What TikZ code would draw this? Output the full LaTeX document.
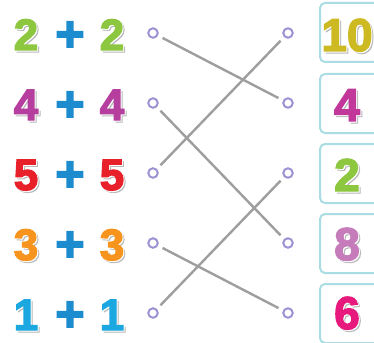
\documentclass[tikz,border=0pt]{standalone}
\usepackage{fontspec}
\setmainfont{Liberation Sans}
\newfontfamily\heavy[FakeBold=3]{Liberation Sans Bold}
\definecolor{cgreen}{HTML}{8DC63F}
\definecolor{cblue}{HTML}{1C8CCF}
\definecolor{cpurple}{HTML}{B53E9E}
\definecolor{cred}{HTML}{E8202A}
\definecolor{corange}{HTML}{F7941D}
\definecolor{ccyan}{HTML}{1BA8E0}
\definecolor{colive}{HTML}{CDB922}
\definecolor{cmagenta}{HTML}{C2379A}
\definecolor{clilac}{HTML}{C67BBA}
\definecolor{cpink}{HTML}{E8197C}
\definecolor{shadowgray}{HTML}{B8B8B8}
\definecolor{dotcol}{HTML}{9D92D2}
\definecolor{linecol}{HTML}{9E9E9E}
\definecolor{boxcol}{HTML}{A9DDE3}
\newcommand\shd[2]{\makebox[0pt][l]{\hspace{2pt}\raisebox{-2pt}{\color{shadowgray}#2}}\makebox[0pt][l]{\hspace{1pt}\raisebox{-1pt}{\color{white}#2}}{\color{#1}#2}}
\begin{document}
\begin{tikzpicture}[x=1pt,y=-1pt,
  dig/.style={inner sep=0pt, anchor=base, font=\fontsize{44}{44}\heavy},
  bigdig/.style={inner sep=0pt, anchor=base, font=\fontsize{46}{46}\heavy},
  plus/.style={inner sep=0pt, anchor=base, font=\fontsize{50}{50}\heavy, text=cblue},
  dot/.style={circle, draw=dotcol, fill=white, line width=2pt, inner sep=0pt, minimum size=9.5pt},
  link/.style={draw=linecol, line width=2.4pt, shorten <=5pt, shorten >=5pt},
  ansbox/.style={draw=boxcol, line width=2pt, rounded corners=5pt, fill=white, minimum width=90pt, minimum height=59pt, anchor=west, inner sep=0pt}]
\useasboundingbox (0,0) rectangle (374,342);
\clip (0,0) rectangle (374,342);
% answer boxes
\node[ansbox] (box1) at (319,32.5) {};
\node[ansbox] (box2) at (319,103.5) {};
\node[ansbox] (box3) at (319,173.5) {};
\node[ansbox] (box4) at (319,243.5) {};
\node[ansbox] (box5) at (319,313.5) {};
% left expressions
\node[dig] (a1) at (26,50) {\shd{cgreen}{2}};
\node[plus] (p1) at (70,51) {+};
\node[dig] (b1) at (112,50) {\shd{cgreen}{2}};
\node[dig] (a2) at (26,120) {\shd{cpurple}{4}};
\node[plus] (p2) at (70,121) {+};
\node[dig] (b2) at (112,120) {\shd{cpurple}{4}};
\node[dig] (a3) at (26,190) {\shd{cred}{5}};
\node[plus] (p3) at (70,191) {+};
\node[dig] (b3) at (112,190) {\shd{cred}{5}};
\node[dig] (a4) at (26,260) {\shd{corange}{3}};
\node[plus] (p4) at (70,261) {+};
\node[dig] (b4) at (112,260) {\shd{corange}{3}};
\node[dig] (a5) at (26,330) {\shd{ccyan}{1}};
\node[plus] (p5) at (70,331) {+};
\node[dig] (b5) at (112,330) {\shd{ccyan}{1}};
% answers
\node[bigdig] (r1) at (347,51) {\shd{colive}{10}};
\node[bigdig] (r2) at (347,121) {\shd{cmagenta}{4}};
\node[bigdig] (r3) at (347,191) {\shd{cgreen}{2}};
\node[bigdig] (r4) at (347,260) {\shd{clilac}{8}};
\node[bigdig] (r5) at (347,329) {\shd{cpink}{6}};
% dots
\node[dot] (L1) at (153,33) {};
\node[dot] (L2) at (153,103) {};
\node[dot] (L3) at (153,173) {};
\node[dot] (L4) at (153,243) {};
\node[dot] (L5) at (153,313) {};
\node[dot] (R1) at (288,33) {};
\node[dot] (R2) at (288,103) {};
\node[dot] (R3) at (288,173) {};
\node[dot] (R4) at (288,243) {};
\node[dot] (R5) at (288,313) {};
% connectors
\draw[link] (L1) -- (R2);
\draw[link] (L2) -- (R4);
\draw[link] (L3) -- (R1);
\draw[link] (L4) -- (R5);
\draw[link] (L5) -- (R3);
\end{tikzpicture}
\end{document}
